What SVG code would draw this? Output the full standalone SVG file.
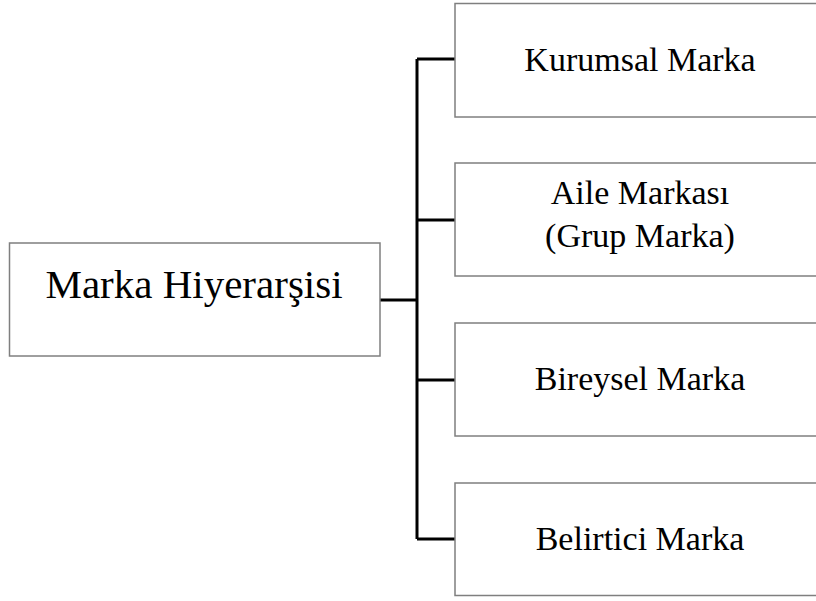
<svg xmlns="http://www.w3.org/2000/svg" width="816" height="601" viewBox="0 0 816 601">
  <style>
    .box { fill: #ffffff; stroke: #7f7f7f; stroke-width: 1.5; }
    .label { fill: #000000; text-anchor: middle; }
    .root { font-size: 41px; }
    .child { font-size: 34px; }
    .link { fill: none; stroke: #000000; stroke-width: 3; }
  </style>
  <rect width="816" height="601" fill="#ffffff"/>

  <g id="connectors">
    <path class="link" d="M380 300 H417"/>
    <path class="link" d="M417 59 V539"/>
    <path class="link" d="M417 59 H455"/>
    <path class="link" d="M417 220 H455"/>
    <path class="link" d="M417 380 H455"/>
    <path class="link" d="M417 539 H455"/>
  </g>

  <g font-family="'Liberation Serif', 'DejaVu Serif', serif">
    <g id="marka-hiyerarsisi">
      <rect class="box" x="9.5" y="243" width="370.5" height="113"/>
      <text class="label root" x="194" y="298">Marka Hiyerarşisi</text>
    </g>

    <g id="kurumsal-marka">
      <rect class="box" x="455" y="3.5" width="370" height="113.5"/>
      <text class="label child" x="640" y="71">Kurumsal Marka</text>
    </g>

    <g id="aile-markasi">
      <rect class="box" x="455" y="163" width="370" height="113"/>
      <text class="label child" x="640" y="204">Aile Markası</text>
      <text class="label child" x="640" y="247">(Grup Marka)</text>
    </g>

    <g id="bireysel-marka">
      <rect class="box" x="455" y="323" width="370" height="113"/>
      <text class="label child" x="640" y="390">Bireysel Marka</text>
    </g>

    <g id="belirtici-marka">
      <rect class="box" x="455" y="483" width="370" height="112.5"/>
      <text class="label child" x="640" y="550">Belirtici Marka</text>
    </g>
  </g>
</svg>
